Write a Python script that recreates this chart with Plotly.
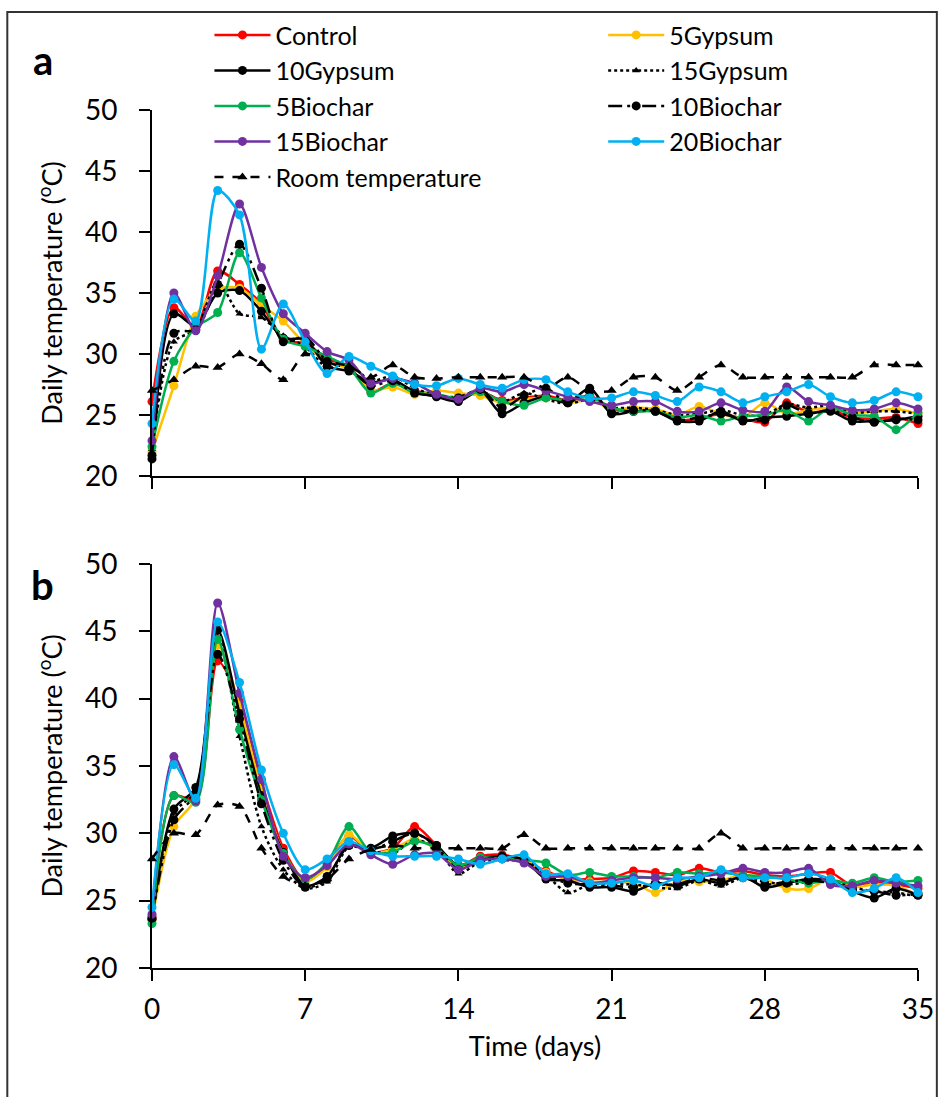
import plotly.graph_objects as go

# Day index (0-35)
days = list(range(36))

# ---------- Panel a: daily temperature (°C) ----------
a_control = [26.1, 33.8, 32.2, 36.8, 35.7, 34.1, 31.1, 30.9, 29.6, 29.0, 26.9, 27.6, 27.0, 26.7, 26.3, 26.9, 26.2, 26.4,
             26.6, 26.2, 26.6, 25.5, 25.3, 25.4, 24.6, 24.7, 25.1, 24.7, 24.4, 26.0, 25.2, 25.4, 24.8, 24.7, 24.8, 24.3]
a_5gypsum = [22.0, 27.4, 33.1, 35.3, 35.4, 34.0, 32.7, 30.8, 29.3, 28.8, 27.0, 27.3, 26.7, 27.0, 26.8, 26.6, 26.0, 26.3,
             26.4, 26.0, 26.2, 25.5, 25.6, 25.5, 25.0, 25.7, 25.1, 24.8, 26.0, 25.1, 25.4, 25.6, 25.2, 25.3, 25.5, 25.1]
a_10gypsum = [21.4, 33.3, 32.3, 35.0, 35.2, 33.5, 31.3, 31.2, 29.0, 28.6, 27.7, 27.9, 26.9, 26.5, 26.1, 27.0, 25.1, 26.0,
              26.5, 26.0, 27.2, 25.1, 25.3, 25.3, 24.5, 24.5, 25.3, 24.5, 24.8, 24.9, 25.1, 25.3, 24.5, 24.5, 24.6, 24.9]
a_15gypsum = [22.2, 31.0, 32.0, 35.9, 33.3, 33.0, 31.5, 30.6, 28.9, 29.2, 27.8, 28.2, 27.2, 26.6, 26.5, 27.0, 26.1, 26.8,
              26.3, 25.9, 26.3, 25.6, 25.6, 25.4, 25.0, 25.1, 25.4, 25.0, 25.0, 25.9, 25.6, 25.8, 25.2, 25.3, 25.3, 25.1]
a_5biochar = [22.4, 29.4, 32.2, 33.4, 38.3, 34.6, 31.2, 30.6, 29.8, 28.9, 26.8, 27.6, 26.8, 26.7, 26.4, 26.9, 26.1, 25.8,
              26.4, 26.2, 26.5, 25.6, 25.3, 25.3, 24.8, 25.0, 24.5, 24.9, 25.0, 25.4, 24.5, 25.6, 25.0, 24.9, 23.8, 25.2]
a_10biochar = [21.7, 31.7, 32.0, 35.7, 39.0, 35.4, 31.0, 31.4, 29.4, 28.8, 27.4, 27.8, 26.8, 26.6, 26.4, 27.1, 25.6, 26.6,
               27.2, 26.0, 27.0, 25.2, 25.4, 25.3, 24.6, 24.8, 25.1, 24.6, 24.6, 25.8, 25.1, 25.4, 24.8, 24.4, 24.7, 24.6]
a_15biochar = [22.9, 35.0, 31.9, 36.4, 42.3, 37.1, 33.3, 31.7, 30.2, 29.5, 27.6, 28.0, 27.6, 26.7, 26.3, 27.2, 26.9, 27.5,
               27.0, 26.5, 26.1, 25.8, 26.1, 26.1, 25.3, 25.3, 26.0, 25.4, 25.3, 27.3, 26.1, 25.8, 25.4, 25.5, 26.0, 25.5]
a_20biochar = [24.3, 34.5, 32.7, 43.4, 41.4, 30.4, 34.1, 31.0, 28.4, 29.8, 29.0, 28.2, 27.5, 27.4, 28.0, 27.5, 27.2, 27.9,
               27.9, 26.9, 26.4, 26.4, 26.9, 26.6, 26.1, 27.3, 26.9, 26.0, 26.5, 26.9, 27.5, 26.5, 26.0, 26.2, 26.9, 26.5]
a_room = [27.0, 27.9, 29.0, 28.9, 30.0, 29.2, 27.9, 30.0, 29.4, 29.0, 28.1, 29.1, 28.1, 28.0, 28.1, 28.1, 28.1, 28.1,
          27.2, 28.1, 27.0, 27.0, 28.1, 28.1, 27.0, 28.1, 29.1, 28.1, 28.1, 28.1, 28.1, 28.1, 28.1, 29.1, 29.1, 29.1]

# ---------- Panel b: daily temperature (°C) ----------
b_control = [23.8, 32.8, 32.5, 42.8, 39.8, 33.8, 28.9, 26.5, 27.8, 29.8, 28.6, 28.9, 30.5, 29.1, 27.6, 28.3, 28.4, 28.0,
             27.2, 26.6, 26.6, 26.7, 27.2, 27.1, 26.9, 27.4, 27.1, 27.2, 26.9, 26.8, 27.0, 27.1, 26.1, 26.3, 26.2, 25.9]
b_5gypsum = [23.6, 30.5, 32.6, 44.0, 39.5, 33.2, 28.6, 26.4, 27.5, 29.9, 28.6, 28.8, 29.6, 28.8, 27.5, 28.0, 28.2, 28.1,
             27.1, 26.6, 26.4, 26.4, 26.3, 25.6, 26.4, 26.4, 26.5, 26.9, 26.6, 25.9, 25.9, 26.6, 26.0, 26.2, 26.1, 25.4]
b_10gypsum = [23.6, 31.8, 33.4, 45.1, 38.9, 32.8, 28.6, 26.1, 26.8, 29.1, 28.9, 29.8, 30.0, 29.1, 27.6, 28.1, 28.3, 28.0,
              26.6, 26.5, 26.0, 26.0, 25.7, 26.3, 26.1, 26.6, 26.3, 26.8, 26.0, 26.3, 26.6, 26.5, 25.7, 25.2, 25.9, 25.4]
b_15gypsum = [23.9, 31.5, 33.2, 44.6, 37.2, 30.5, 27.3, 25.9, 26.4, 29.0, 28.7, 28.5, 29.5, 28.9, 27.0, 27.9, 28.0, 27.9,
              26.9, 25.6, 26.2, 26.2, 26.2, 26.0, 25.9, 26.5, 26.1, 26.7, 26.4, 26.2, 26.4, 26.6, 26.0, 25.7, 25.6, 25.3]
b_5biochar = [23.3, 32.8, 32.3, 44.4, 37.7, 32.5, 28.5, 26.6, 27.8, 30.5, 28.6, 28.6, 29.4, 28.9, 27.6, 28.2, 28.1, 28.0,
              27.8, 26.9, 27.1, 26.8, 26.8, 26.7, 27.1, 27.0, 27.1, 26.9, 26.8, 26.6, 26.3, 26.5, 26.3, 26.7, 26.4, 26.5]
b_10biochar = [23.7, 31.0, 33.0, 43.3, 38.5, 32.2, 28.0, 26.0, 26.6, 29.3, 28.8, 29.4, 30.0, 29.0, 27.3, 28.0, 28.2, 28.1,
               26.9, 26.3, 26.2, 26.1, 26.0, 26.2, 26.2, 26.7, 26.5, 26.7, 26.2, 26.4, 26.5, 26.3, 25.8, 25.7, 25.4, 25.5]
b_15biochar = [24.0, 35.7, 32.4, 47.1, 40.4, 34.0, 28.3, 26.7, 27.6, 29.2, 28.4, 27.7, 28.4, 28.5, 27.3, 28.0, 28.1, 27.8,
               26.8, 26.8, 26.3, 26.5, 26.7, 26.7, 26.6, 26.8, 27.0, 27.4, 27.1, 27.1, 27.4, 26.2, 26.1, 26.5, 26.3, 26.1]
b_20biochar = [24.5, 35.1, 32.6, 45.7, 41.2, 34.7, 30.0, 27.3, 28.1, 29.4, 28.7, 28.3, 28.3, 28.3, 28.1, 27.7, 28.1, 28.4,
               27.0, 27.0, 26.3, 26.3, 26.5, 26.1, 26.7, 26.7, 27.3, 26.7, 26.7, 26.7, 27.0, 26.6, 25.6, 25.9, 26.7, 25.6]
b_room = [28.1, 30.0, 29.9, 32.1, 32.0, 28.9, 26.8, 26.1, 26.6, 28.1, 28.8, 29.1, 28.9, 28.9, 28.9, 28.9, 28.9, 29.9,
          28.9, 28.9, 28.9, 28.9, 28.9, 28.9, 28.9, 28.9, 30.0, 28.9, 28.9, 28.9, 28.9, 28.9, 28.9, 28.9, 28.9, 28.9]

# Tick values / labels
y_ticks = [20, 25, 30, 35, 40, 45, 50]
x_ticks = [0, 7, 14, 21, 28, 35]

FONT = "Lato"

# name, colour, dash, marker symbol, marker size, legend group, panel a data, panel b data
series = [
    ("Control", "#FF0000", "solid", "circle", 9, "legend", a_control, b_control),
    ("5Gypsum", "#FFC000", "solid", "circle", 9, "legend2", a_5gypsum, b_5gypsum),
    ("10Gypsum", "#000000", "solid", "circle", 9, "legend", a_10gypsum, b_10gypsum),
    ("15Gypsum", "#000000", "dot", "triangle-up", 7, "legend2", a_15gypsum, b_15gypsum),
    ("5Biochar", "#00B050", "solid", "circle", 9, "legend", a_5biochar, b_5biochar),
    ("10Biochar", "#000000", "14px,5px,3px,4px,3px,5px", "circle", 9, "legend2", a_10biochar, b_10biochar),
    ("15Biochar", "#7030A0", "solid", "circle", 9, "legend", a_15biochar, b_15biochar),
    ("20Biochar", "#00B0F0", "solid", "circle", 9, "legend2", a_20biochar, b_20biochar),
    ("Room temperature", "#000000", "dash", "triangle-up", 9, "legend", a_room, b_room),
]

fig = go.Figure()
for name, color, dash, symbol, msize, leg, ya, yb in series:
    common = dict(
        mode="lines+markers",
        line=dict(color=color, width=2.5, dash=dash, shape="spline", smoothing=0.8),
        marker=dict(color=color, size=msize, symbol=symbol),
        cliponaxis=False,
    )
    fig.add_trace(go.Scatter(x=days, y=ya, name=name, legend=leg, showlegend=True,
                             xaxis="x", yaxis="y", **common))
    fig.add_trace(go.Scatter(x=days, y=yb, name=name, showlegend=False,
                             xaxis="x2", yaxis="y2", **common))

axis_common = dict(
    showgrid=False, zeroline=False, showline=True, linecolor="black", linewidth=2,
    ticks="outside", ticklen=11, tickwidth=2, tickcolor="black",
    tickfont=dict(family=FONT, size=28, color="black"),
)

ytitle = dict(text="Daily temperature (<sup>o</sup>C)", font=dict(family=FONT, size=27, color="black"), standoff=14)
leg_font = dict(family=FONT, size=25, color="black")

fig.update_layout(
    width=946, height=1097,
    margin=dict(l=152, r=21, t=110, b=129),
    paper_bgcolor="white", plot_bgcolor="white",
    font=dict(family=FONT, size=26, color="black"),
    xaxis=dict(domain=[0, 1], range=[0, 35], tickvals=x_ticks, showticklabels=False,
               anchor="y", **axis_common),
    yaxis=dict(domain=[0.5734, 1], range=[20, 50], tickvals=y_ticks, anchor="x",
               ticklabelstandoff=16, title=ytitle, **axis_common),
    xaxis2=dict(domain=[0, 1], range=[0, 35], tickvals=x_ticks, anchor="y2", ticklabelstandoff=4,
                title=dict(text="Time (days)", font=dict(family=FONT, size=27, color="black"), standoff=14),
                **axis_common),
    yaxis2=dict(domain=[0, 0.4709], range=[20, 50], tickvals=y_ticks, anchor="x2",
                ticklabelstandoff=16, title=ytitle, **axis_common),
    legend=dict(x=0.075, y=1.114, xanchor="left", yanchor="top", bgcolor="rgba(0,0,0,0)",
                font=leg_font, tracegroupgap=0, itemwidth=56),
    legend2=dict(x=0.589, y=1.114, xanchor="left", yanchor="top", bgcolor="rgba(0,0,0,0)",
                 font=leg_font, tracegroupgap=0, itemwidth=56),
    annotations=[
        dict(text="<b>a</b>", xref="paper", yref="paper", x=-0.1423, y=1.058, xanchor="center",
             yanchor="middle", showarrow=False, font=dict(family=FONT, size=40, color="black")),
        dict(text="<b>b</b>", xref="paper", yref="paper", x=-0.1423, y=0.4464, xanchor="center",
             yanchor="middle", showarrow=False, font=dict(family=FONT, size=40, color="black")),
    ],
    shapes=[
        dict(type="rect", xref="paper", yref="paper", x0=-0.1889, x1=1.0246, y0=-0.16, y1=1.1142,
             line=dict(color="#333333", width=2), fillcolor="rgba(0,0,0,0)", layer="below"),
    ],
)

fig.write_html("out.html")
